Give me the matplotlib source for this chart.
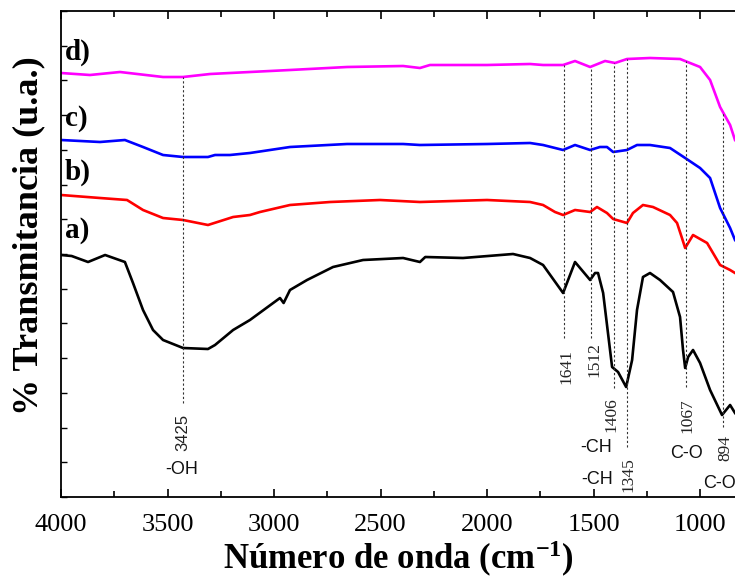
import numpy as np
import matplotlib
matplotlib.use("Agg")
import matplotlib.pyplot as plt
from matplotlib.ticker import MultipleLocator, FixedLocator, NullFormatter

plt.rcParams["font.family"] = ["Liberation Serif", "DejaVu Serif"]
plt.rcParams["mathtext.fontset"] = "custom"
plt.rcParams["mathtext.rm"] = "Liberation Serif"
plt.rcParams["mathtext.bf"] = "Liberation Serif:bold"
plt.rcParams["mathtext.it"] = "Liberation Serif:italic"

# ---- data (wavenumber cm-1, transmittance in arbitrary offset units) ----
wn_a = [4000, 3950, 3873, 3793, 3700, 3662, 3615, 3568, 3521, 3427, 3310, 3277, 3192, 3113,
        2972, 2955, 2925, 2845, 2723, 2582, 2394, 2315, 2290, 2113, 1878, 1798, 1737, 1643,
        1587, 1516, 1493, 1479, 1455, 1413, 1385, 1347, 1319, 1296, 1268, 1235, 1188, 1127,
        1094, 1080, 1070, 1056, 1033, 1000, 953, 897, 859, 836]
t_a = [242, 241, 235, 242, 235, 214, 187, 167, 157, 149, 148, 152, 167, 177,
       199, 194, 207, 217, 230, 237, 239, 235, 240, 239, 243, 239, 232, 204,
       235, 217, 224, 224, 204, 130, 125, 110, 137, 187, 220, 224, 217, 205,
       180, 147, 129, 140, 147, 134, 107, 82, 92, 84]

wn_b = [4000, 3817, 3690, 3615, 3521, 3427, 3310, 3192, 3113, 3066, 2925, 2737, 2502, 2315,
        2000, 1798, 1737, 1681, 1643, 1587, 1516, 1484, 1437, 1408, 1343, 1315, 1268, 1221,
        1141, 1108, 1085, 1070, 1033, 967, 906, 859, 836]
t_b = [302, 299, 297, 287, 279, 277, 272, 280, 282, 285, 292, 295, 297, 295,
       297, 295, 292, 285, 282, 287, 285, 290, 284, 278, 274, 284, 292, 290,
       282, 274, 259, 249, 262, 254, 232, 227, 224]

wn_c = [4000, 3817, 3700, 3615, 3521, 3427, 3310, 3277, 3207, 3113, 2925, 2657, 2394, 2315,
        2000, 1798, 1737, 1643, 1587, 1516, 1470, 1437, 1408, 1343, 1296, 1235, 1141, 1070,
        1000, 953, 906, 859, 836]
t_c = [357, 355, 357, 350, 342, 340, 340, 342, 342, 344, 350, 353, 353, 352,
       353, 354, 352, 347, 352, 347, 350, 350, 345, 347, 352, 352, 349, 339,
       329, 319, 289, 269, 257]

wn_d = [4000, 3864, 3723, 3521, 3427, 3300, 3207, 2925, 2657, 2394, 2315, 2268, 2000, 1798,
        1737, 1643, 1587, 1516, 1446, 1399, 1343, 1235, 1094, 1000, 953, 906, 859, 836]
t_d = [424, 422, 425, 420, 420, 423, 424, 427, 430, 431, 429, 432, 432, 433,
       432, 432, 436, 430, 436, 434, 438, 439, 438, 430, 417, 390, 372, 357]

series_labels = ["a)", "b)", "c)", "d)"]
series_colors = ["black", "red", "blue", "magenta"]

# peak markers: wavenumber, lower end of guide line, label
peak_wn = [3425, 1641, 1512, 1406, 1345, 1067, 894]
peak_bottom = [94, 159, 159, 109, 50, 110, 70]
peak_text = ["3425", "1641", "1512", "1406", "1345", "1067", "894"]
peak_text_wn = [3430, 1626, 1498, 1418, 1338, 1061, 883]
peak_text_y = [65, 130, 137, 82, 22, 81, 49]
peak_font = ["Liberation Sans", "Liberation Serif", "Liberation Serif", "Liberation Serif",
             "Liberation Serif", "Liberation Serif", "Liberation Serif"]

group_text = ["-OH", "-CH", "-CH", "C-O", "C-O"]
group_wn = [3432, 1488, 1484, 1066, 985]
group_y = [27, 49, 17, 43, 14]
group_ha = ["center", "center", "center", "center", "left"]

label_y = [266, 325, 379, 445]

# ---- figure ----
fig = plt.figure(figsize=(7.35, 5.8), dpi=100)
ax = fig.add_axes([61/735, 83/580, 1 - 61/735, 486/580])

for wn, t, c in zip([wn_a, wn_b, wn_c, wn_d], [t_a, t_b, t_c, t_d], series_colors):
    ax.plot(wn, t, color=c, lw=1.9, solid_joinstyle="round")

for w, yb in zip(peak_wn, peak_bottom):
    ytop = np.interp(w, wn_d[::-1], t_d[::-1])
    ax.plot([w, w], [yb, ytop], color="#333333", lw=0.8, ls=(0, (2, 2)))

for s, w, y, f in zip(peak_text, peak_text_wn, peak_text_y, peak_font):
    ax.text(w, y, s, rotation=90, ha="center", va="center",
            fontsize=12.5 if f.endswith("Serif") else 12, family=f, color="#222222")

for s, w, y, ha in zip(group_text, group_wn, group_y, group_ha):
    ax.text(w, y, s, ha=ha, va="center", fontsize=13, family="Liberation Sans",
            color="#111111")

for s, y in zip(series_labels, label_y):
    ax.text(3982, y, s, ha="left", va="center", fontsize=21, fontweight="bold")

ax.set_xlim(4000, 836)
ax.set_ylim(0, 486)
ax.xaxis.set_major_locator(MultipleLocator(500))
ax.xaxis.set_minor_locator(MultipleLocator(250))
ax.yaxis.set_major_locator(FixedLocator(np.linspace(0, 486, 15)))
ax.yaxis.set_major_formatter(NullFormatter())
ax.tick_params(axis="x", which="both", direction="in", top=True, bottom=True,
               labelsize=19, pad=12)
ax.tick_params(axis="x", which="major", length=6, width=1.2)
ax.tick_params(axis="x", which="minor", length=4, width=1.2)
ax.tick_params(axis="y", which="major", direction="in", length=4, width=1.0,
               left=True, right=False)
ax.spines["right"].set_visible(False)
for sp in ["left", "top", "bottom"]:
    ax.spines[sp].set_linewidth(1.3)

ax.set_xlabel("Número de onda (cm$^{\\mathbf{-1}}$)", fontsize=25,
              fontweight="bold", labelpad=2)
fig.text(29/735, 1 - 236/580, "% Transmitancia (u.a.)", rotation=90,
         ha="center", va="center", fontsize=26, fontweight="bold")

fig.savefig("out.png", dpi=100)
